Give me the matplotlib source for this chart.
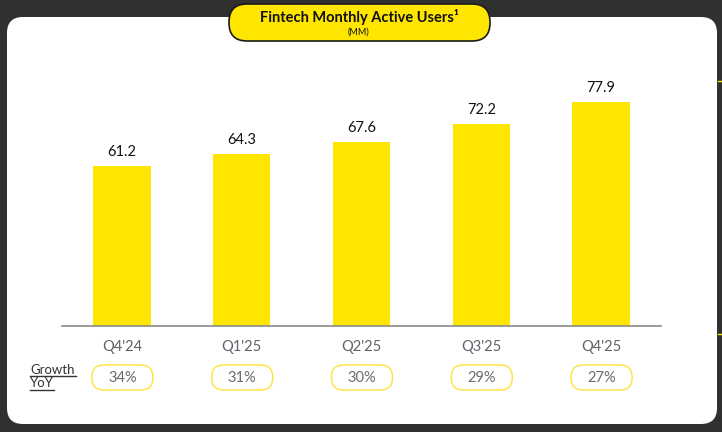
import matplotlib.pyplot as plt
from matplotlib.patches import FancyBboxPatch

quarters = ["Q4'24", "Q1'25", "Q2'25", "Q3'25", "Q4'25"]
mau = [61.2, 64.3, 67.6, 72.2, 77.9]
growth = ["34%", "31%", "30%", "29%", "27%"]

YELLOW = "#FFE600"
DARK = "#303030"
GREY = "#5f6068"

plt.rcParams["font.family"] = ["Lato", "DejaVu Sans"]

W, H = 722, 432
fig = plt.figure(figsize=(W / 100, H / 100), dpi=100)
fig.patch.set_facecolor(DARK)

# background layer in pixel coordinates
bg = fig.add_axes([0, 0, 1, 1])
bg.set_xlim(0, W)
bg.set_ylim(H, 0)
bg.axis("off")
bg.add_patch(FancyBboxPatch((7, 17), 710, 407, boxstyle="round,pad=0,rounding_size=16",
                            facecolor="white", edgecolor="none"))
bg.plot([718, 722], [81, 81], color=YELLOW, lw=1)
bg.plot([718, 722], [334, 334], color=YELLOW, lw=1)

# title pill
bg.add_patch(FancyBboxPatch((229, 4), 261, 37, boxstyle="round,pad=0,rounding_size=18",
                            facecolor=YELLOW, edgecolor="#1a1a1a", lw=1.2))
bg.text(359, 17, "Fintech Monthly Active Users\u00b9", ha="center", va="center",
        fontsize=10.5, fontweight="bold", color="#111111")
bg.text(359, 32, "(MM)", ha="center", va="center", fontsize=6.5, color="#111111")

# bar chart
ax = fig.add_axes([62 / W, 106 / H, 599 / W, 266 / H])
ax.patch.set_alpha(0)
x = range(len(quarters))
bars = ax.bar(x, mau, width=0.48, color=YELLOW)
ax.set_xlim(-0.5, 4.5)
ax.set_ylim(19.4, 88.9)
for b, v in zip(bars, mau):
    ax.annotate(f"{v:.1f}", (b.get_x() + b.get_width() / 2, v), xytext=(0, 5),
                textcoords="offset points", ha="center", va="bottom",
                fontsize=10.5, color="#111111")
for s in ["top", "left", "right"]:
    ax.spines[s].set_visible(False)
ax.spines["bottom"].set_color("#8a8a8a")
ax.spines["bottom"].set_linewidth(1.2)
ax.set_yticks([])
ax.set_xticks(list(x))
ax.set_xticklabels(quarters, fontsize=10.5, color=GREY)
ax.tick_params(axis="x", length=0, pad=10)

# growth pills under each category
fig.canvas.draw()
for i, g in enumerate(growth):
    cx = ax.transData.transform((i, 0))[0]
    bg.add_patch(FancyBboxPatch((cx - 30, 365), 61, 25, boxstyle="round,pad=0,rounding_size=12",
                                facecolor="white", edgecolor="#FFE13A", lw=1.0))
    bg.text(cx + 0.5, 378, g, ha="center", va="center", fontsize=10.5, color="#6a6a70")

bg.text(30, 370, "Growth", ha="left", va="center", fontsize=9.5, color="#333333")
bg.text(30, 383, "YoY", ha="left", va="center", fontsize=9.5, color="#333333")
bg.plot([30, 76], [376, 376], color="#333333", lw=1)
bg.plot([30, 54], [390, 390], color="#333333", lw=1)

fig.savefig("out.png", dpi=100, facecolor=DARK)
